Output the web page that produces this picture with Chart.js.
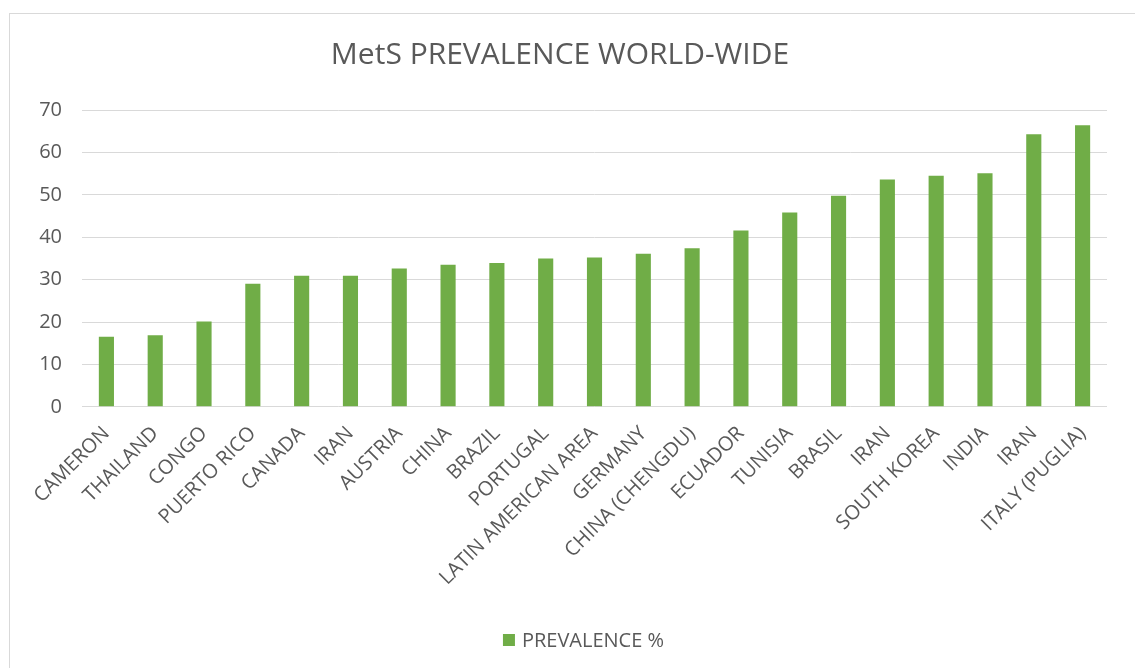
<!DOCTYPE html>
<html>
<head>
<meta charset="utf-8">
<title>MetS prevalence world-wide</title>
<script src="https://cdn.jsdelivr.net/npm/chart.js@4/dist/chart.umd.min.js"></script>
<style>
  html, body { margin: 0; padding: 0; background: #ffffff; overflow: hidden; }
  #wrap { position: relative; width: 1135px; height: 668px; }
  #frame {
    position: absolute; left: 9px; top: 13px; width: 1200px; height: 700px;
    border-top: 1px solid #d9d9d9; border-left: 1px solid #d9d9d9;
    box-sizing: border-box; pointer-events: none;
  }
  canvas { position: absolute; left: 0; top: 0; }
</style>
</head>
<body>
<div id="wrap">
  <div id="frame"></div>
  <canvas id="chart" width="1135" height="668"></canvas>
</div>
<script>
// Countries / study areas, in ascending order of prevalence
const categories = [
  'CAMERON', 'THAILAND', 'CONGO', 'PUERTO RICO', 'CANADA', 'IRAN', 'AUSTRIA',
  'CHINA', 'BRAZIL', 'PORTUGAL', 'LATIN AMERICAN AREA', 'GERMANY',
  'CHINA (CHENGDU)', 'ECUADOR', 'TUNISIA', 'BRASIL', 'IRAN', 'SOUTH KOREA',
  'INDIA', 'IRAN', 'ITALY (PUGLIA)'
];

// Metabolic syndrome prevalence, %
const prevalence = [
  16.5, 16.9, 20.1, 29.0, 30.9, 30.9, 32.6, 33.5, 33.9, 35.0, 35.2,
  36.1, 37.4, 41.6, 45.8, 49.8, 53.6, 54.5, 55.1, 64.3, 66.4
];

const seriesName = 'PREVALENCE %';
const chartTitle = 'MetS PREVALENCE WORLD-WIDE';
const yTicks = [0, 10, 20, 30, 40, 50, 60, 70];

const GREEN = '#70ad47';
const TEXT = '#595959';
const GRID = '#d9d9d9';
const FONT = "'Open Sans', 'DejaVu Sans', sans-serif";

// Legend drawn below the axis labels: a square swatch followed by the series name
const bottomLegend = {
  id: 'bottomLegend',
  afterDraw(chart) {
    const { ctx, chartArea } = chart;
    ctx.save();
    ctx.font = '20px ' + FONT;
    const box = 12, gap = 7;
    const tw = ctx.measureText(seriesName).width;
    const total = box + gap + tw;
    const cx = (chartArea.left + chartArea.right) / 2 - 11;
    const cy = chart.height - 28;
    const x0 = cx - total / 2;
    ctx.fillStyle = GREEN;
    ctx.fillRect(x0, cy - box / 2, box, box);
    ctx.fillStyle = TEXT;
    ctx.textBaseline = 'middle';
    ctx.textAlign = 'left';
    ctx.fillText(seriesName, x0 + box + gap, cy + 1);
    ctx.restore();
  }
};

new Chart(document.getElementById('chart'), {
  type: 'bar',
  data: {
    labels: categories,
    datasets: [{
      label: seriesName,
      data: prevalence,
      backgroundColor: GREEN,
      borderWidth: 0,
      categoryPercentage: 1.0,
      barPercentage: 0.31
    }]
  },
  options: {
    responsive: false,
    animation: false,
    layout: { padding: { left: 13, right: 28, top: 0, bottom: 71 } },
    plugins: {
      legend: { display: false },
      tooltip: { enabled: false },
      title: {
        display: true,
        text: chartTitle,
        color: TEXT,
        font: { family: FONT, size: 30, weight: 'normal' },
        padding: { top: 37, bottom: 37 }
      }
    },
    scales: {
      x: {
        grid: { display: false },
        border: { display: false },
        ticks: {
          color: TEXT,
          font: { family: FONT, size: 20 },
          minRotation: 45,
          maxRotation: 45,
          autoSkip: false,
          padding: 7
        }
      },
      y: {
        min: 0,
        max: 70,
        afterBuildTicks(scale) {
          scale.ticks = yTicks.map(v => ({ value: v }));
        },
        afterFit(scale) { scale.width = 69; },
        grid: { color: GRID, lineWidth: 1, drawTicks: false },
        border: { display: false },
        ticks: {
          color: TEXT,
          font: { family: FONT, size: 20 },
          padding: 20
        }
      }
    }
  },
  plugins: [bottomLegend]
});
</script>
</body>
</html>
